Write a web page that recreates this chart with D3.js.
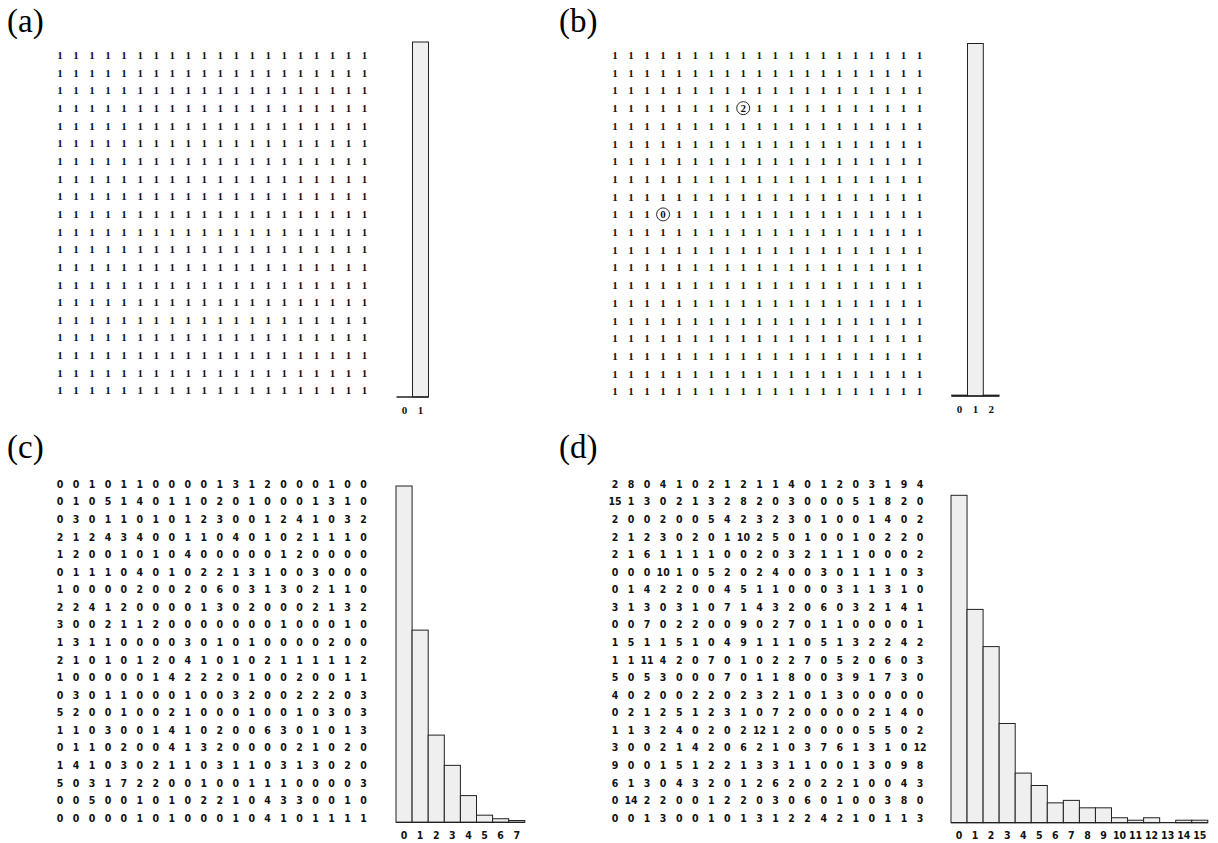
<!DOCTYPE html>
<html>
<head>
<meta charset="utf-8">
<script src="https://cdn.jsdelivr.net/npm/d3@7"></script>
<style>
  body { margin: 0; background: #fff; }
  svg { display: block; }
</style>
</head>
<body>
<div id="chart"></div>
<script>
// grids, one string per row
const gridA = [
  "1 1 1 1 1 1 1 1 1 1 1 1 1 1 1 1 1 1 1 1",
  "1 1 1 1 1 1 1 1 1 1 1 1 1 1 1 1 1 1 1 1",
  "1 1 1 1 1 1 1 1 1 1 1 1 1 1 1 1 1 1 1 1",
  "1 1 1 1 1 1 1 1 1 1 1 1 1 1 1 1 1 1 1 1",
  "1 1 1 1 1 1 1 1 1 1 1 1 1 1 1 1 1 1 1 1",
  "1 1 1 1 1 1 1 1 1 1 1 1 1 1 1 1 1 1 1 1",
  "1 1 1 1 1 1 1 1 1 1 1 1 1 1 1 1 1 1 1 1",
  "1 1 1 1 1 1 1 1 1 1 1 1 1 1 1 1 1 1 1 1",
  "1 1 1 1 1 1 1 1 1 1 1 1 1 1 1 1 1 1 1 1",
  "1 1 1 1 1 1 1 1 1 1 1 1 1 1 1 1 1 1 1 1",
  "1 1 1 1 1 1 1 1 1 1 1 1 1 1 1 1 1 1 1 1",
  "1 1 1 1 1 1 1 1 1 1 1 1 1 1 1 1 1 1 1 1",
  "1 1 1 1 1 1 1 1 1 1 1 1 1 1 1 1 1 1 1 1",
  "1 1 1 1 1 1 1 1 1 1 1 1 1 1 1 1 1 1 1 1",
  "1 1 1 1 1 1 1 1 1 1 1 1 1 1 1 1 1 1 1 1",
  "1 1 1 1 1 1 1 1 1 1 1 1 1 1 1 1 1 1 1 1",
  "1 1 1 1 1 1 1 1 1 1 1 1 1 1 1 1 1 1 1 1",
  "1 1 1 1 1 1 1 1 1 1 1 1 1 1 1 1 1 1 1 1",
  "1 1 1 1 1 1 1 1 1 1 1 1 1 1 1 1 1 1 1 1",
  "1 1 1 1 1 1 1 1 1 1 1 1 1 1 1 1 1 1 1 1"
];
const gridB = [
  "1 1 1 1 1 1 1 1 1 1 1 1 1 1 1 1 1 1 1 1",
  "1 1 1 1 1 1 1 1 1 1 1 1 1 1 1 1 1 1 1 1",
  "1 1 1 1 1 1 1 1 1 1 1 1 1 1 1 1 1 1 1 1",
  "1 1 1 1 1 1 1 1 2 1 1 1 1 1 1 1 1 1 1 1",
  "1 1 1 1 1 1 1 1 1 1 1 1 1 1 1 1 1 1 1 1",
  "1 1 1 1 1 1 1 1 1 1 1 1 1 1 1 1 1 1 1 1",
  "1 1 1 1 1 1 1 1 1 1 1 1 1 1 1 1 1 1 1 1",
  "1 1 1 1 1 1 1 1 1 1 1 1 1 1 1 1 1 1 1 1",
  "1 1 1 1 1 1 1 1 1 1 1 1 1 1 1 1 1 1 1 1",
  "1 1 1 0 1 1 1 1 1 1 1 1 1 1 1 1 1 1 1 1",
  "1 1 1 1 1 1 1 1 1 1 1 1 1 1 1 1 1 1 1 1",
  "1 1 1 1 1 1 1 1 1 1 1 1 1 1 1 1 1 1 1 1",
  "1 1 1 1 1 1 1 1 1 1 1 1 1 1 1 1 1 1 1 1",
  "1 1 1 1 1 1 1 1 1 1 1 1 1 1 1 1 1 1 1 1",
  "1 1 1 1 1 1 1 1 1 1 1 1 1 1 1 1 1 1 1 1",
  "1 1 1 1 1 1 1 1 1 1 1 1 1 1 1 1 1 1 1 1",
  "1 1 1 1 1 1 1 1 1 1 1 1 1 1 1 1 1 1 1 1",
  "1 1 1 1 1 1 1 1 1 1 1 1 1 1 1 1 1 1 1 1",
  "1 1 1 1 1 1 1 1 1 1 1 1 1 1 1 1 1 1 1 1",
  "1 1 1 1 1 1 1 1 1 1 1 1 1 1 1 1 1 1 1 1"
];
const circledB = [[3, 8], [9, 3]];

const gridC = [
  "0 0 1 0 1 1 0 0 0 0 1 3 1 2 0 0 0 1 0 0",
  "0 1 0 5 1 4 0 1 1 0 2 0 1 0 0 0 1 3 1 0",
  "0 3 0 1 1 0 1 0 1 2 3 0 0 1 2 4 1 0 3 2",
  "2 1 2 4 3 4 0 0 1 1 0 4 0 1 0 2 1 1 1 0",
  "1 2 0 0 1 0 1 0 4 0 0 0 0 0 1 2 0 0 0 0",
  "0 1 1 1 0 4 0 1 0 2 2 1 3 1 0 0 3 0 0 0",
  "1 0 0 0 0 2 0 0 2 0 6 0 3 1 3 0 2 1 1 0",
  "2 2 4 1 2 0 0 0 0 1 3 0 2 0 0 0 2 1 3 2",
  "3 0 0 2 1 1 2 0 0 0 0 0 0 0 1 0 0 0 1 0",
  "1 3 1 1 0 0 0 0 3 0 1 0 1 0 0 0 0 2 0 0",
  "2 1 0 1 0 1 2 0 4 1 0 1 0 2 1 1 1 1 1 2",
  "1 0 0 0 0 0 1 4 2 2 2 0 1 0 0 2 0 0 1 1",
  "0 3 0 1 1 0 0 0 1 0 0 3 2 0 0 2 2 2 0 3",
  "5 2 0 0 1 0 0 2 1 0 0 0 1 0 0 1 0 3 0 3",
  "1 1 0 3 0 0 1 4 1 0 2 0 0 6 3 0 1 0 1 3",
  "0 1 1 0 2 0 0 4 1 3 2 0 0 0 0 2 1 0 2 0",
  "1 4 1 0 3 0 2 1 1 0 3 1 1 0 3 1 3 0 2 0",
  "5 0 3 1 7 2 2 0 0 1 0 0 1 1 1 0 0 0 0 3",
  "0 0 5 0 0 1 0 1 0 2 2 1 0 4 3 3 0 0 1 0",
  "0 0 0 0 0 1 0 1 0 0 0 1 0 4 1 0 1 1 1 1"
];

const gridD = [
  "2 8 0 4 1 0 2 1 2 1 1 4 0 1 2 0 3 1 9 4",
  "15 1 3 0 2 1 3 2 8 2 0 3 0 0 0 5 1 8 2 0",
  "2 0 0 2 0 0 5 4 2 3 2 3 0 1 0 0 1 4 0 2",
  "2 1 2 3 0 2 0 1 10 2 5 0 1 0 0 1 0 2 2 0",
  "2 1 6 1 1 1 1 0 0 2 0 3 2 1 1 1 0 0 0 2",
  "0 0 0 10 1 0 5 2 0 2 4 0 0 3 0 1 1 1 0 3",
  "0 1 4 2 2 0 0 4 5 1 1 0 0 0 3 1 1 3 1 0",
  "3 1 3 0 3 1 0 7 1 4 3 2 0 6 0 3 2 1 4 1",
  "0 0 7 0 2 2 0 0 9 0 2 7 0 1 1 0 0 0 0 1",
  "1 5 1 1 5 1 0 4 9 1 1 1 0 5 1 3 2 2 4 2",
  "1 1 11 4 2 0 7 0 1 0 2 2 7 0 5 2 0 6 0 3",
  "5 0 5 3 0 0 0 7 0 1 1 8 0 0 3 9 1 7 3 0",
  "4 0 2 0 0 2 2 0 2 3 2 1 0 1 3 0 0 0 0 0",
  "0 2 1 2 5 1 2 3 1 0 7 2 0 0 0 0 2 1 4 0",
  "1 1 3 2 4 0 2 0 2 12 1 2 0 0 0 0 5 5 0 2",
  "3 0 0 2 1 4 2 0 6 2 1 0 3 7 6 1 3 1 0 12",
  "9 0 0 1 5 1 2 2 1 3 3 1 1 0 0 1 3 0 9 8",
  "6 1 3 0 4 3 2 0 1 2 6 2 0 2 2 1 0 0 4 3",
  "0 14 2 2 0 0 1 2 2 0 3 0 6 0 1 0 0 3 8 0",
  "0 0 1 3 0 0 1 0 1 3 1 2 2 4 2 1 0 1 1 3"
];

const binsA = [0, 1];
const binsB = [0, 1, 2];
const binsC = [0, 1, 2, 3, 4, 5, 6, 7];
const binsD = [0, 1, 2, 3, 4, 5, 6, 7, 8, 9, 10, 11, 12, 13, 14, 15];

const W = 1218, H = 843;
const svg = d3.select("#chart").append("svg")
    .attr("width", W)
    .attr("height", H);

const serif = "'Liberation Serif', 'DejaVu Serif', serif";
const sans = "'DejaVu Sans Condensed', 'DejaVu Sans', sans-serif";

function parse(rows) {
  return rows.map(r => r.trim().split(/\s+/).map(Number));
}

function drawPanel(p) {
  const g = svg.append("g");
  const cells = parse(p.grid);

  // panel letter
  g.append("text")
    .attr("x", p.label[0])
    .attr("y", p.label[1])
    .style("font-family", serif)
    .style("font-size", "33px")
    .text(p.name);

  const x = d3.scaleLinear().domain([0, 19]).range([p.gx0, p.gx1]);
  const y = d3.scaleLinear().domain([0, 19]).range([p.gy0, p.gy1]);

  const flat = [];
  cells.forEach((row, i) => row.forEach((v, j) => flat.push({ i, j, v })));

  g.selectAll("text.cell")
    .data(flat)
    .join("text")
    .attr("class", "cell")
    .attr("x", d => x(d.j))
    .attr("y", d => y(d.i))
    .attr("dy", "0.36em")
    .attr("text-anchor", "middle")
    .style("font-family", p.font)
    .style("font-weight", p.weight)
    .style("font-size", p.fs)
    .style("fill", "#111")
    .text(d => d.v);

  // circled entries
  g.selectAll("circle.mark")
    .data(p.circled || [])
    .join("circle")
    .attr("class", "mark")
    .attr("cx", d => x(d[1]))
    .attr("cy", d => y(d[0]))
    .attr("r", 6.5)
    .style("fill", "none")
    .style("stroke", "#111")
    .style("stroke-width", 0.9);

  // histogram of grid values
  const counts = d3.rollup(flat, v => v.length, d => d.v);
  const hist = p.bins.map(b => ({ b, n: counts.get(b) || 0 }));

  const hx = d3.scaleBand()
    .domain(p.bins)
    .range([p.hx0, p.hx0 + p.bw * p.bins.length])
    .padding(0);
  const hy = d3.scaleLinear()
    .domain([0, d3.max(hist, d => d.n)])
    .range([p.base, p.top]);

  g.selectAll("rect.bar")
    .data(hist)
    .join("rect")
    .attr("class", "bar")
    .attr("x", d => hx(d.b))
    .attr("y", d => hy(d.n))
    .attr("width", hx.bandwidth())
    .attr("height", d => p.base - hy(d.n))
    .style("fill", "#efefef")
    .style("stroke", "#222")
    .style("stroke-width", 1);

  g.append("line")
    .attr("x1", hx.range()[0])
    .attr("x2", hx.range()[1])
    .attr("y1", p.base)
    .attr("y2", p.base)
    .style("stroke", "#222")
    .style("stroke-width", 1.3);

  g.selectAll("text.tick")
    .data(p.bins)
    .join("text")
    .attr("class", "tick")
    .attr("x", d => hx(d) + hx.bandwidth() / 2)
    .attr("y", p.base + 13)
    .attr("dy", "0.36em")
    .attr("text-anchor", "middle")
    .style("font-family", p.font)
    .style("font-weight", p.weight)
    .style("font-size", p.fs)
    .style("fill", "#111")
    .text(d => d);
}

drawPanel({
  name: "(a)", label: [7, 32], grid: gridA, bins: binsA,
  gx0: 60, gx1: 364.5, gy0: 55, gy1: 390.5,
  hx0: 396.5, bw: 16, base: 397, top: 42,
  font: serif, weight: "bold", fs: "11px"
});

drawPanel({
  name: "(b)", label: [559, 32], grid: gridB, bins: binsB, circled: circledB,
  gx0: 615, gx1: 919.5, gy0: 55, gy1: 391.5,
  hx0: 951.7, bw: 15.8, base: 396, top: 43.5,
  font: serif, weight: "bold", fs: "11px"
});

drawPanel({
  name: "(c)", label: [7, 458], grid: gridC, bins: binsC,
  gx0: 60, gx1: 363.5, gy0: 484, gy1: 818,
  hx0: 396, bw: 16.1, base: 822.3, top: 486,
  font: sans, weight: "bold", fs: "10.5px"
});

drawPanel({
  name: "(d)", label: [559, 458], grid: gridD, bins: binsD,
  gx0: 615, gx1: 920, gy0: 484, gy1: 818,
  hx0: 951, bw: 16.05, base: 822.7, top: 495.3,
  font: sans, weight: "bold", fs: "10.5px"
});
</script>
</body>
</html>
